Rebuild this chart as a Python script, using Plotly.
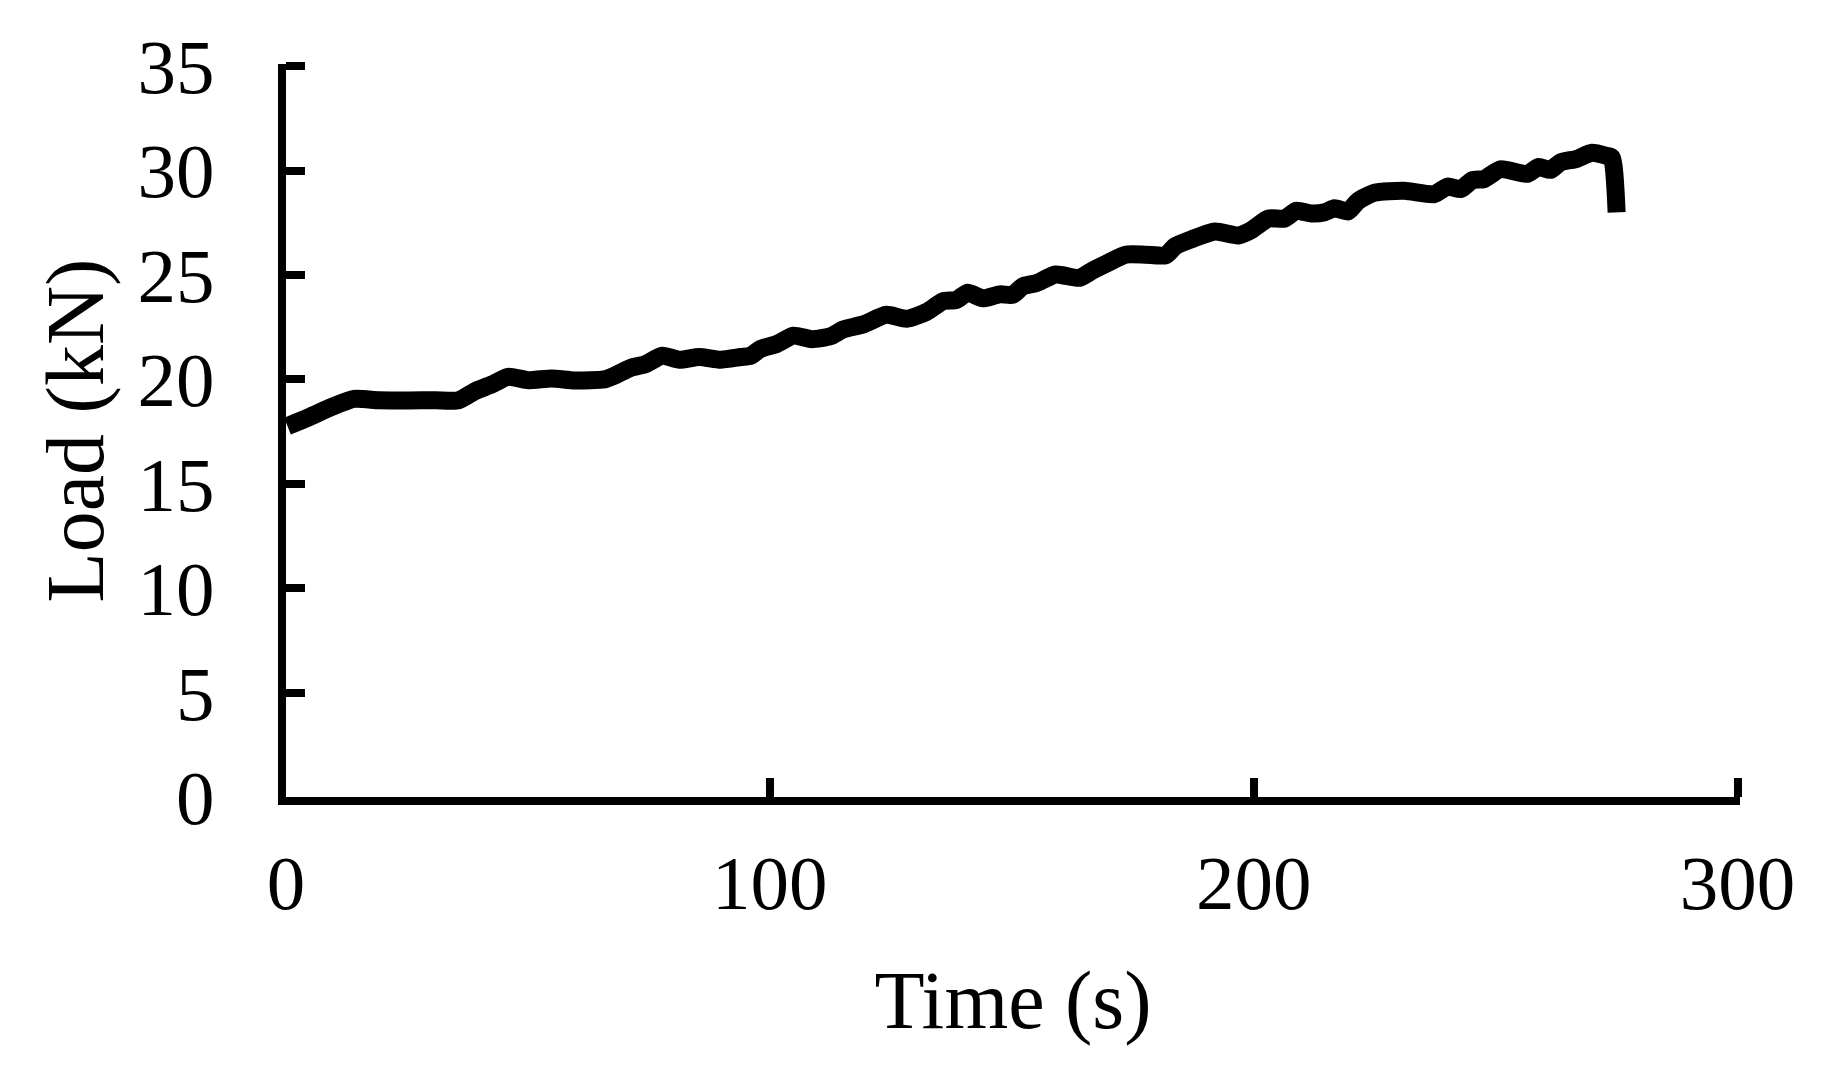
import plotly.graph_objects as go

# Time (s)
time_s = [0.3, 4.8, 9.6, 14.1, 19.2, 25.4, 30.9, 35.7, 39.1, 42.5, 45.9, 50.1, 54.9,
          59.7, 65.8, 67.9, 71.3, 74.1, 77.8, 81.3, 85.4, 89.8, 94.0, 96.0, 98.1,
          101.5, 104.9, 108.7, 112.5, 115.2, 119.3, 124.1, 128.3, 132.4, 135.8,
          138.5, 140.9, 144.0, 147.5, 150.2, 152.3, 155.0, 159.1, 163.9, 166.7,
          170.1, 173.5, 177.6, 181.8, 183.8, 187.2, 192.0, 196.8, 199.6, 203.0,
          206.4, 208.8, 211.9, 214.7, 216.7, 219.5, 221.5, 225.0, 231.1, 237.3,
          240.1, 242.8, 245.2, 247.6, 251.0, 256.5, 258.9, 261.3, 263.4, 266.8,
          269.9, 273.0, 274.0, 275.0]
# Load (kN)
load_kn = [17.76, 18.19, 18.69, 19.06, 19.0, 18.99, 19.0, 19.0, 19.44, 19.75, 20.12,
           19.96, 20.04, 19.95, 20.0, 20.18, 20.56, 20.71, 21.13, 20.94, 21.07, 20.94,
           21.07, 21.13, 21.46, 21.70, 22.09, 21.92, 22.06, 22.39, 22.63, 23.09, 22.9,
           23.23, 23.74, 23.8, 24.15, 23.88, 24.07, 24.05, 24.46, 24.6, 25.02, 24.86,
           25.21, 25.6, 25.97, 25.97, 25.94, 26.38, 26.71, 27.08, 26.89, 27.16, 27.7,
           27.7, 28.07, 27.94, 28.0, 28.19, 28.04, 28.53, 28.94, 29.03, 28.87, 29.23,
           29.11, 29.54, 29.59, 30.06, 29.84, 30.17, 30.03, 30.39, 30.56, 30.85, 30.7,
           30.62, 28.0]

x_ticks = [0, 100, 200, 300]
y_ticks = [0, 5, 10, 15, 20, 25, 30, 35]

FONT = "Liberation Serif, Times New Roman, serif"

fig = go.Figure()
fig.add_trace(go.Scatter(
    x=time_s, y=load_kn, mode="lines",
    line=dict(color="black", width=18, shape="spline", smoothing=0.6),
    showlegend=False, hoverinfo="skip",
))

axis_common = dict(
    showline=True, linecolor="black", linewidth=8,
    ticks="inside", tickcolor="black", tickwidth=8, ticklen=19,
    showgrid=False, zeroline=False,
    tickfont=dict(family=FONT, size=77, color="black"),
    title_font=dict(family=FONT, size=82, color="black"),
)

fig.update_layout(
    width=1832, height=1085,
    paper_bgcolor="white", plot_bgcolor="white",
    margin=dict(l=278, r=100, t=56, b=296),
    xaxis=dict(range=[0, 300.5], tickvals=x_ticks, ticktext=[str(v) for v in x_ticks],
               ticklabelstandoff=12,
               title=dict(text="Time (s)", standoff=48), **axis_common),
    yaxis=dict(range=[0, 35.1], tickvals=y_ticks, ticktext=[str(v) for v in y_ticks],
               ticklabelstandoff=48,
               title=dict(text="Load (kN)", standoff=10), **axis_common),
)

fig.write_html("out.html")
